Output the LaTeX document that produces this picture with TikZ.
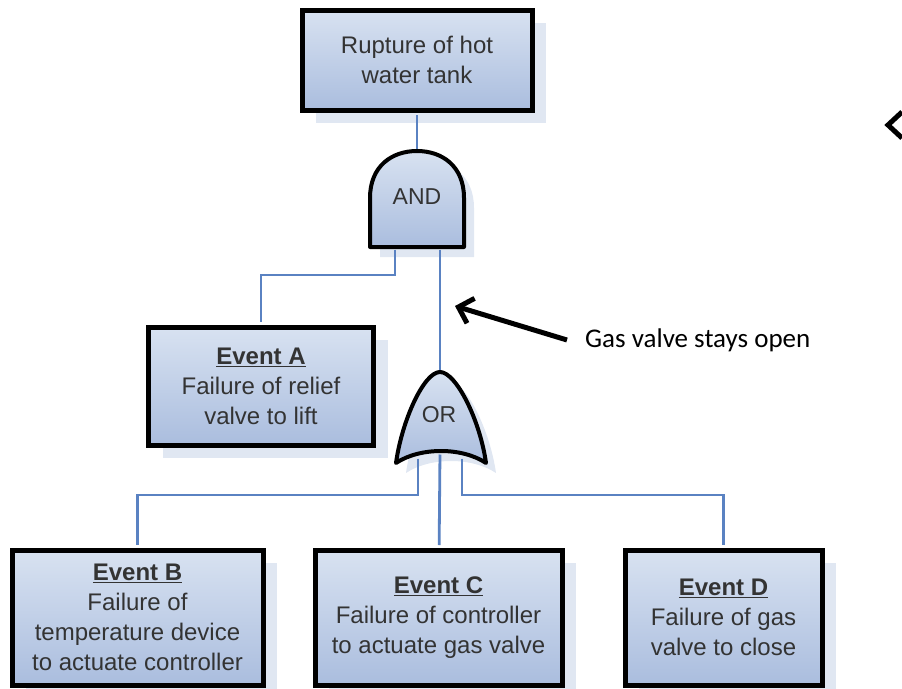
\documentclass[tikz,border=0pt]{standalone}
\usepackage{fontspec}
\setmainfont{Liberation Sans}
\newfontfamily\notefont{Carlito}
\usetikzlibrary{arrows.meta, shadows}
\definecolor{boxlight}{HTML}{D8E2F1}
\definecolor{boxdark}{HTML}{AABDDE}
\definecolor{shadowblue}{HTML}{E0E7F2}
\definecolor{wireblue}{HTML}{5A82C2}
\definecolor{txtgray}{HTML}{333333}

\begin{document}
\begin{tikzpicture}[x=1pt, y=-1pt,
    evbox/.style={draw=black, line width=5pt, top color=boxlight, bottom color=boxdark,
        drop shadow={shadow xshift=14pt, shadow yshift=-13pt, fill=shadowblue, opacity=1},
        align=center, inner sep=0pt, text=txtgray, font=\fontsize{24}{30}\selectfont},
    gate/.style={draw=black, line width=4pt, line join=round, top color=boxlight, bottom color=boxdark,
        drop shadow={shadow xshift=10pt, shadow yshift=-10pt, fill=shadowblue, opacity=1}},
    gatelbl/.style={text=txtgray, font=\fontsize{23}{28}\selectfont},
    wire/.style={draw=wireblue, line width=2.8pt, shorten <=2.5pt, shorten >=2.5pt},
    note/.style={line width=5pt, -{Straight Barb[length=13pt, width=26pt]}}]
    % Fix the frame
    \useasboundingbox (0,0) rectangle (902,688);
    % Draw the event boxes
    \node[evbox, minimum width=230, minimum height=100] (top) at (417,60) {Rupture of hot\\water tank};
    \node[evbox, minimum width=225, minimum height=118] (evA) at (261,386)
        {\underline{\textbf{Event A}}\\Failure of relief\\valve to lift};
    \node[evbox, minimum width=251, minimum height=135] (evB) at (137.5,617.5)
        {\underline{\textbf{Event B}}\\Failure of\\temperature device\\to actuate controller};
    \node[evbox, minimum width=247, minimum height=135] (evC) at (438.5,617.5)
        {\underline{\textbf{Event C}}\\Failure of controller\\to actuate gas valve};
    \node[evbox, minimum width=197, minimum height=135] (evD) at (723.5,617.5)
        {\underline{\textbf{Event D}}\\Failure of gas\\valve to close};
    % Draw the gates
    \path[gate] (370,247) -- (370,198) .. controls (370,166) and (392,151) .. (417,151)
        .. controls (442,151) and (464,166) .. (464,198) -- (464,247) -- cycle;
    \node[gatelbl] (andlbl) at (417,197) {AND};
    \path[gate] (396,463) .. controls (402,420) and (424,372) .. (440,372)
        .. controls (456,372) and (480,420) .. (486,463)
        .. controls (462,447) and (420,447) .. cycle;
    \node[gatelbl] (orlbl) at (439,415) {OR};
    \coordinate (andtop) at (417,151);
    \coordinate (andL) at (395,247);
    \coordinate (andR) at (440,247);
    \coordinate (ortop) at (440,372);
    \coordinate (orL) at (418,456);
    \coordinate (orM) at (440,452);
    \coordinate (orR) at (462,456);
    % Connect them
    \draw[wire] (top) -- (andtop);
    \draw[wire] (andL) -- ++(0,28) -| (evA);
    \draw[wire] (andR) -- (ortop);
    \draw[wire] (orL) -- ++(0,39) -| (evB);
    \draw[wire] (orM) -- (evC);
    \draw[wire] (orR) -- ++(0,39) -| (evD);
    % Note on the OR branch
    \node[anchor=west, inner xsep=18pt, font=\notefont\fontsize{27}{32}\selectfont] (gas) at (567,340)
        {Gas valve stays open};
    \coordinate (gaspt) at (455,306);
    \draw[note] (gas.west) -- (gaspt);
    % Cut-off arrow tip at the edge
    \draw[line width=5pt] (902,112) -- (888,125) -- (902,138);
\end{tikzpicture}
\end{document}
